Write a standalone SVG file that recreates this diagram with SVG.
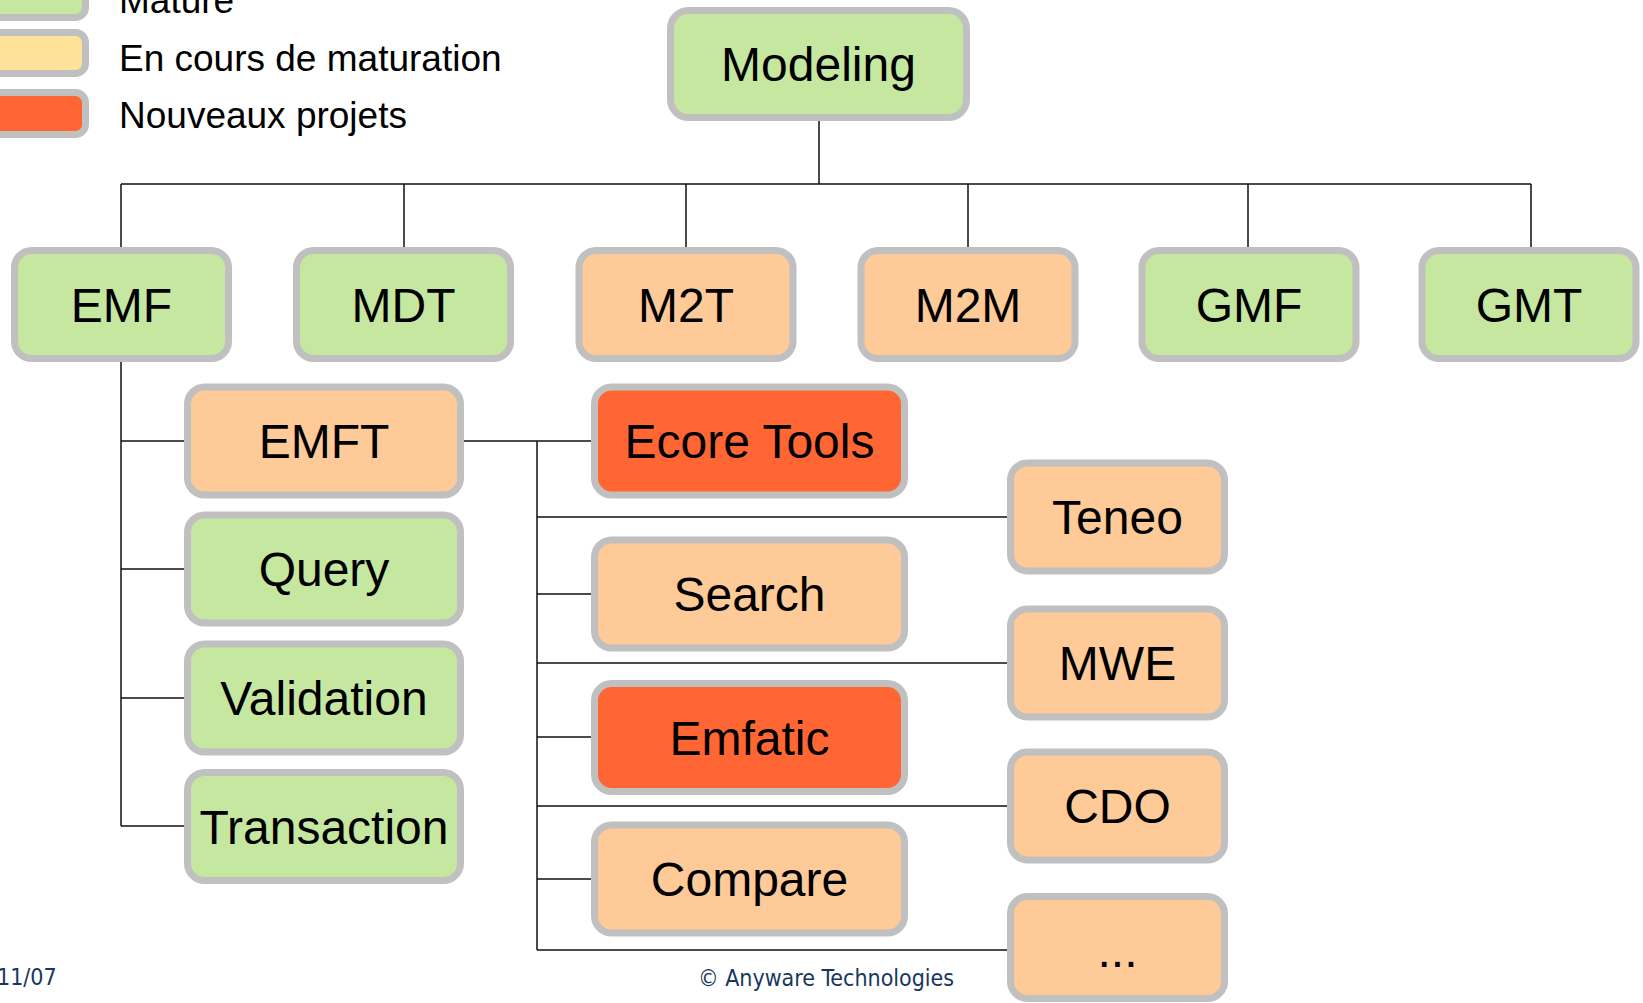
<svg xmlns="http://www.w3.org/2000/svg" width="1643" height="1003" viewBox="0 0 1643 1003">
<style>
.box{stroke:#C0C0C0;stroke-width:7}
.g{fill:#C5E7A0}
.p{fill:#FECA98}
.o{fill:#FF6633}
.y{fill:#FFE29A}
.t{font-family:"Liberation Sans",Arial,sans-serif;font-size:48px;fill:#000;text-anchor:middle}
.lt{font-family:"Liberation Sans",Arial,sans-serif;font-size:37px;fill:#000}
.ft{font-family:"DejaVu Sans Condensed","DejaVu Sans",sans-serif;font-size:23px;fill:#17375E}
.c{fill:none;stroke:#111;stroke-width:1.5}
</style>
<rect width="1643" height="1003" fill="#fff"/>
<g id="legend">
<rect class="box g" x="-40" y="-23.5" width="125.5" height="41" rx="10"/>
<rect class="box y" x="-40" y="32.5" width="125.5" height="41" rx="10"/>
<rect class="box o" x="-40" y="92.5" width="125.5" height="42" rx="10"/>
<text class="lt" x="119" y="13">Mature</text>
<text class="lt" x="119" y="71">En cours de maturation</text>
<text class="lt" x="119" y="128">Nouveaux projets</text>
</g>
<g id="connectors">
<path class="c" d="M819 118V184M121 184H1531M121 184V251M404 184V251M686 184V251M968 184V251M1248 184V251M1531 184V251"/>
<path class="c" d="M121 358V826M121 441H188M121 569H188M121 698H188M121 826H188"/>
<path class="c" d="M460 441H595M537 441V950M537 517H1011M537 663H1011M537 806H1011M537 950H1011M537 594H595M537 737H595M537 879H595"/>
</g>
<g id="n-modeling"><rect class="box g" x="670.5" y="10.5" width="296" height="107" rx="18"/><text class="t" x="818.5" y="81">Modeling</text></g>
<g id="n-emf"><rect class="box g" x="14.5" y="250.5" width="214" height="108" rx="17"/><text class="t" x="121.5" y="321.5">EMF</text></g>
<g id="n-mdt"><rect class="box g" x="296.5" y="250.5" width="214" height="108" rx="17"/><text class="t" x="403.5" y="321.5">MDT</text></g>
<g id="n-m2t"><rect class="box p" x="579" y="250.5" width="214" height="108" rx="17"/><text class="t" x="686" y="321.5">M2T</text></g>
<g id="n-m2m"><rect class="box p" x="861" y="250.5" width="214" height="108" rx="17"/><text class="t" x="968" y="321.5">M2M</text></g>
<g id="n-gmf"><rect class="box g" x="1142" y="250.5" width="214" height="108" rx="17"/><text class="t" x="1249" y="321.5">GMF</text></g>
<g id="n-gmt"><rect class="box g" x="1422" y="250.5" width="214" height="108" rx="17"/><text class="t" x="1529" y="321.5">GMT</text></g>
<g id="n-emft"><rect class="box p" x="187.5" y="387" width="273" height="108" rx="17"/><text class="t" x="324" y="458">EMFT</text></g>
<g id="n-query"><rect class="box g" x="187.5" y="515" width="273" height="108" rx="17"/><text class="t" x="324" y="586">Query</text></g>
<g id="n-validation"><rect class="box g" x="187.5" y="644" width="273" height="108" rx="17"/><text class="t" x="324" y="715">Validation</text></g>
<g id="n-transaction"><rect class="box g" x="187.5" y="772.5" width="273" height="108" rx="17"/><text class="t" x="324" y="843.5">Transaction</text></g>
<g id="n-ecoretools"><rect class="box o" x="594.5" y="387" width="310" height="108" rx="17"/><text class="t" x="749.5" y="458">Ecore Tools</text></g>
<g id="n-search"><rect class="box p" x="594.5" y="540" width="310" height="108" rx="17"/><text class="t" x="749.5" y="611">Search</text></g>
<g id="n-emfatic"><rect class="box o" x="594.5" y="683.5" width="310" height="108" rx="17"/><text class="t" x="749.5" y="754.5">Emfatic</text></g>
<g id="n-compare"><rect class="box p" x="594.5" y="825" width="310" height="108" rx="17"/><text class="t" x="749.5" y="896">Compare</text></g>
<g id="n-teneo"><rect class="box p" x="1010.5" y="463" width="214" height="108" rx="17"/><text class="t" x="1117.5" y="534">Teneo</text></g>
<g id="n-mwe"><rect class="box p" x="1010.5" y="609" width="214" height="108" rx="17"/><text class="t" x="1117.5" y="680">MWE</text></g>
<g id="n-cdo"><rect class="box p" x="1010.5" y="752" width="214" height="108" rx="17"/><text class="t" x="1117.5" y="823">CDO</text></g>
<g id="n-more"><rect class="box p" x="1010.5" y="896.5" width="214" height="102" rx="17"/><text class="t" x="1117.5" y="967">...</text></g>
<g id="footer">
<text class="ft" x="-3" y="985">11/07</text>
<text class="ft" x="826" y="986" text-anchor="middle">© Anyware Technologies</text>
</g>
</svg>
